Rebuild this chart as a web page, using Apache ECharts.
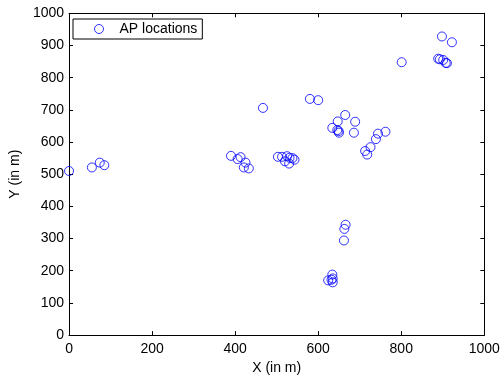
<!DOCTYPE html>
<html>
<head>
<meta charset="utf-8">
<script src="https://cdn.jsdelivr.net/npm/echarts@6/dist/echarts.min.js"></script>
<style>html,body{margin:0;padding:0;background:#fff;}#c{width:503px;height:380px;}</style>
</head>
<body>
<div id="c"></div>
<script>
const seriesName = 'AP locations';
const xValues = [0,55,74,85, 390,406,413,425,421,433, 467, 503,513,525,531,520,530,538,543, 580,600,
  665,689,647,634,646,650,686,649, 762,744,739,726,713,718,
  801,898,922,889,893,901,907,910, 666,663,662,634,624,635,635,632];
const yValues = [510,521,536,528, 557,547,553,536,521,518, 706, 554,554,556,551,540,533,550,545, 734,730,
  684,663,664,644,637,629,629,634, 632,626,609,584,572,561,
  848,928,910,859,857,855,846,845, 343,330,294,188,170,176,164,172];
const xTicks = [0,200,400,600,800,1000];
const yTicks = [0,100,200,300,400,500,600,700,800,900,1000];
const xTitle = 'X (in m)';
const yTitle = 'Y (in m)';

const pts = xValues.map((x,i)=>[x,yValues[i]]);
const font = 'Liberation Sans, Arial, Helvetica, sans-serif';
const chart = echarts.init(document.getElementById('c'), null, {renderer:'canvas'});
const axisLine = {show:true, onZero:false, lineStyle:{color:'#000', width:1}};
const tick = {show:true, inside:true, length:4, lineStyle:{color:'#000'}};
chart.setOption({
  animation:false,
  backgroundColor:'#fff',
  grid:{left:67.7, right:18.7, top:13.3, bottom:38.3, containLabel:false},
  legend:{
    data:[seriesName], left:73, top:19,
    orient:'horizontal',
    borderColor:'#000', borderWidth:1, borderRadius:0,
    padding:[3,5,3,21],
    itemWidth:9, itemHeight:9,
    itemStyle:{color:'rgba(0,0,0,0)', borderColor:'#0000ff', borderWidth:1},
    backgroundColor:'#fff',
    textStyle:{fontFamily:font, fontSize:14, color:'#000', padding:[0,0,0,11]}
  },
  xAxis:[{
    type:'value', min:0, max:1000, interval:200, position:'bottom',
    name:xTitle, nameLocation:'middle', nameGap:23,
    nameTextStyle:{fontFamily:font, fontSize:14, color:'#000'},
    axisLine, axisTick:tick,
    axisLabel:{fontFamily:font, fontSize:14, color:'#000', margin:7,
      formatter:v=>xTicks.includes(v)?String(v):''},
    splitLine:{show:false}
  },{
    type:'value', min:0, max:1000, interval:200, position:'top',
    axisLine, axisTick:tick, axisLabel:{show:false}, splitLine:{show:false}
  }],
  yAxis:[{
    type:'value', min:0, max:1000, interval:100, position:'left',
    name:yTitle, nameLocation:'middle', nameGap:37, nameRotate:90,
    nameTextStyle:{fontFamily:font, fontSize:14, color:'#000'},
    axisLine, axisTick:tick,
    axisLabel:{fontFamily:font, fontSize:14, color:'#000', margin:5,
      formatter:v=>yTicks.includes(v)?String(v):''},
    splitLine:{show:false}
  },{
    type:'value', min:0, max:1000, interval:100, position:'right',
    axisLine, axisTick:tick, axisLabel:{show:false}, splitLine:{show:false}
  }],
  series:[{
    name:seriesName, type:'scatter', data:pts,
    symbol:'circle', symbolSize:9,
    itemStyle:{color:'rgba(0,0,0,0)', borderColor:'#0000ff', borderWidth:1}
  }]
});
</script>
</body>
</html>
